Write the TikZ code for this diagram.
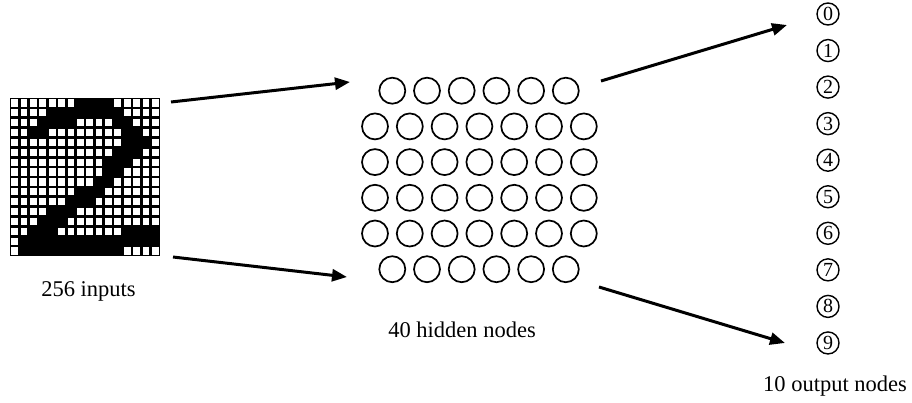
\documentclass[tikz,border=0pt]{standalone}
\usepackage{fontspec}
\setmainfont{Liberation Serif}
\usetikzlibrary{arrows.meta}
\begin{document}
\begin{tikzpicture}[x=1pt,y=-1pt,
  flow/.style={line width=3pt,-{Triangle[length=15pt,width=12pt]}},
  hidden/.style={circle,draw,line width=1.7pt,minimum size=26pt,inner sep=0pt},
  outnode/.style={circle,draw,line width=1.4pt,minimum size=22pt,inner sep=0pt,
    font=\fontsize{20}{20}\selectfont},
  caption/.style={anchor=base,font=\fontsize{22.5}{26}\selectfont,inner sep=0pt}]
\useasboundingbox (0,0) rectangle (912,402);

% 16x16 input raster: black background, white squares for the empty pixels
\fill[black] (10,98) rectangle (160,256);
\foreach \r/\a/\b in {1/0/6,1/11/15, 2/0/3,2/12/15, 3/0/2,3/7/10,3/13/15,
    4/0/1,4/4/11,4/14/15, 5/0/11,5/15/15, 6/0/10,6/14/15, 7/0/9,7/13/15,
    8/0/9,8/12/15, 9/0/8,9/11/15, 10/0/6,10/10/15, 11/0/5,11/9/15,
    12/0/3,12/7/15, 13/0/2,13/6/15, 14/0/1,14/5/11, 15/0/0, 16/0/0,16/12/15}{
  \foreach \c in {\a,...,\b}{
    \fill[white] ({10+\c*9.375+1.35},{98+(\r-1)*9.875+1.35})
      rectangle ({10+(\c+1)*9.375-1.35},{98+\r*9.875-1.35});
  }
}
\node[caption] (inlabel) at (88.5,296) {256 inputs};

% hidden layer: 6-7-7-7-7-6 circles
\foreach \r in {1,6}{
  \foreach \i in {0,...,5}{
    \node[hidden] (h-\r-\i) at ({392.3+34.7*\i},{90.7+35.7*(\r-1)}) {};
  }
}
\foreach \r in {2,...,5}{
  \foreach \i in {0,...,6}{
    \node[hidden] (h-\r-\i) at ({375+34.8*\i},{90.7+35.7*(\r-1)}) {};
  }
}
\node[caption] (hidlabel) at (462,337) {40 hidden nodes};

% output layer
\foreach \d in {0,...,9}{
  \node[outnode] (o\d) at (828,{14+36.55*\d}) {\d};
}
\node[caption] (outlabel) at (835,391) {10 output nodes};

% connector end points
\coordinate (gridTop) at (171,102);
\coordinate (gridBot) at (173,257);
\coordinate (hidTopIn) at (350,82);
\coordinate (hidBotIn) at (347,277);
\coordinate (hidTopOut) at (601,81);
\coordinate (hidBotOut) at (599,287);
\coordinate (outTop) at (787,25);
\coordinate (outBot) at (785,343);

\draw[flow] (gridTop) -- (hidTopIn);
\draw[flow] (gridBot) -- (hidBotIn);
\draw[flow] (hidTopOut) -- (outTop);
\draw[flow] (hidBotOut) -- (outBot);
\end{tikzpicture}
\end{document}
